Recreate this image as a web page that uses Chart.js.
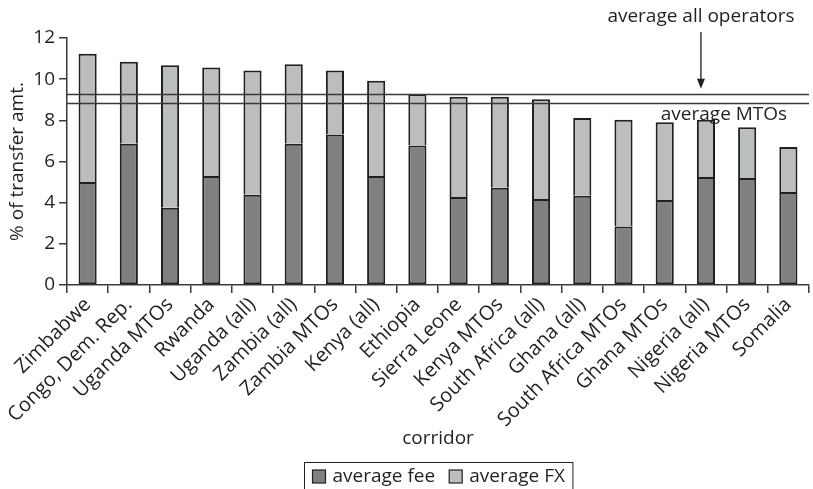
<!DOCTYPE html>
<html lang="en">
<head>
    <meta charset="UTF-8">
    <title>Remittance cost by corridor</title>
    <script src="https://cdn.jsdelivr.net/npm/chart.js"></script>
    <style>
        html, body {
            margin: 0;
            padding: 0;
            background: #ffffff;
        }
        #wrap {
            width: 813px;
            height: 489px;
        }
    </style>
</head>
<body>
    <div id="wrap"><canvas id="costChart"></canvas></div>

    <script>
        const corridors = [
            'Zimbabwe', 'Congo, Dem. Rep.', 'Uganda MTOs', 'Rwanda', 'Uganda (all)',
            'Zambia (all)', 'Zambia MTOs', 'Kenya (all)', 'Ethiopia', 'Sierra Leone',
            'Kenya MTOs', 'South Africa (all)', 'Ghana (all)', 'South Africa MTOs',
            'Ghana MTOs', 'Nigeria (all)', 'Nigeria MTOs', 'Somalia'
        ];
        const avgFee = [5.0, 6.86, 3.75, 5.30, 4.38, 6.86, 7.31, 5.30, 6.78, 4.28,
                        4.73, 4.18, 4.34, 2.84, 4.13, 5.25, 5.20, 4.52];
        const avgFX = [6.24, 3.99, 6.93, 5.27, 6.04, 3.87, 3.11, 4.62, 2.50, 4.86,
                       4.41, 4.85, 3.77, 5.19, 3.78, 2.78, 2.47, 2.18];
        const yTicks = [0, 2, 4, 6, 8, 10, 12];
        const avgAllOperators = 9.29;
        const avgMTOs = 8.85;

        const FONT = '"Open Sans", sans-serif';
        const INK = '#231f20';

        // reference lines, their notes, and the boxed legend under the axis title
        const extras = {
            id: 'extras',
            afterDatasetsDraw(chart) {
                const { ctx, chartArea, scales } = chart;
                const x = scales.x, y = scales.y;
                ctx.save();
                ctx.strokeStyle = '#3a3a3a';
                ctx.lineWidth = 1.5;
                [avgAllOperators, avgMTOs].forEach(v => {
                    const py = Math.round(y.getPixelForValue(v)) + 0.5;
                    ctx.beginPath();
                    ctx.moveTo(chartArea.left, py);
                    ctx.lineTo(chartArea.right, py);
                    ctx.stroke();
                });

                ctx.fillStyle = INK;
                ctx.font = '19px ' + FONT;
                ctx.textAlign = 'center';
                ctx.textBaseline = 'middle';

                // "average all operators" with arrow down to its line
                const ax = x.getPixelForValue(15) - 5;
                ctx.fillText('average all operators', ax, 17);
                const tipY = y.getPixelForValue(avgAllOperators) - 5;
                ctx.beginPath();
                ctx.moveTo(ax, 32);
                ctx.lineTo(ax, tipY - 8);
                ctx.stroke();
                ctx.beginPath();
                ctx.moveTo(ax - 4, tipY - 10);
                ctx.lineTo(ax + 4, tipY - 10);
                ctx.lineTo(ax, tipY);
                ctx.closePath();
                ctx.fill();

                // "average MTOs" just under its line
                ctx.fillText('average MTOs', x.getPixelForValue(15) + 18, y.getPixelForValue(avgMTOs) + 12);
                ctx.restore();
            },
            afterDraw(chart) {
                const { ctx, chartArea } = chart;
                const sets = chart.data.datasets;
                ctx.save();
                ctx.font = '19px ' + FONT;
                ctx.textBaseline = 'middle';
                const sw = 13, gap = 7, itemGap = 14, pad = 8;
                const widths = sets.map(d => sw + gap + ctx.measureText(d.label).width);
                const total = widths.reduce((a, b) => a + b, 0) + itemGap * (sets.length - 1) + pad * 2;
                const cx = (chartArea.left + chartArea.right) / 2;
                const left = Math.round(cx - total / 2) + 0.5;
                const top = 462.5;
                ctx.strokeStyle = INK;
                ctx.lineWidth = 1;
                ctx.strokeRect(left, top, total, 30);
                let px = left + pad;
                const midY = top + 14;
                sets.forEach((d, i) => {
                    ctx.fillStyle = d.backgroundColor;
                    ctx.fillRect(px, midY - sw / 2, sw, sw);
                    ctx.strokeStyle = INK;
                    ctx.lineWidth = 1.2;
                    ctx.strokeRect(px, midY - sw / 2, sw, sw);
                    ctx.fillStyle = INK;
                    ctx.fillText(d.label, px + sw + gap, midY);
                    px += widths[i] + itemGap;
                });
                ctx.restore();
            }
        };

        const ctx = document.getElementById('costChart').getContext('2d');
        const costChart = new Chart(ctx, {
            type: 'bar',
            data: {
                labels: corridors,
                datasets: [
                    {
                        label: 'average fee',
                        data: avgFee,
                        backgroundColor: '#808080',
                        borderColor: INK,
                        borderWidth: 2,
                        borderSkipped: false,
                        categoryPercentage: 1,
                        barPercentage: 0.44
                    },
                    {
                        label: 'average FX',
                        data: avgFX,
                        backgroundColor: '#bcbdbf',
                        borderColor: INK,
                        borderWidth: 2,
                        borderSkipped: 'start',
                        categoryPercentage: 1,
                        barPercentage: 0.44
                    }
                ]
            },
            options: {
                responsive: true,
                maintainAspectRatio: false,
                animation: false,
                layout: {
                    padding: { top: 38, right: 4, left: 0, bottom: 35 }
                },
                scales: {
                    x: {
                        stacked: true,
                        afterFit(scale) { scale.height = 169; },
                        border: { color: '#3a3a3a', width: 1.5 },
                        grid: {
                            offset: true,
                            drawOnChartArea: false,
                            tickLength: 8,
                            color: '#3a3a3a',
                            lineWidth: 1.5
                        },
                        ticks: {
                            autoSkip: false,
                            minRotation: 45,
                            maxRotation: 45,
                            color: INK,
                            font: { family: FONT, size: 20 },
                            padding: 0
                        },
                        title: {
                            display: true,
                            text: 'corridor',
                            color: INK,
                            font: { family: FONT, size: 19 }
                        }
                    },
                    y: {
                        stacked: true,
                        min: 0,
                        max: 12,
                        afterFit(scale) { scale.width = 67; },
                        afterBuildTicks(scale) {
                            scale.ticks = yTicks.map(v => ({ value: v }));
                        },
                        border: { color: '#3a3a3a', width: 1.5 },
                        grid: {
                            drawOnChartArea: false,
                            tickLength: 8,
                            color: '#3a3a3a',
                            lineWidth: 1.5
                        },
                        ticks: {
                            color: INK,
                            font: { family: FONT, size: 19 },
                            padding: 4
                        },
                        title: {
                            display: true,
                            text: '% of transfer amt.',
                            color: INK,
                            font: { family: FONT, size: 19 },
                            padding: { top: 6, bottom: 4 }
                        }
                    }
                },
                plugins: {
                    legend: { display: false },
                    tooltip: { enabled: false }
                }
            },
            plugins: [extras]
        });
    </script>
</body>
</html>
